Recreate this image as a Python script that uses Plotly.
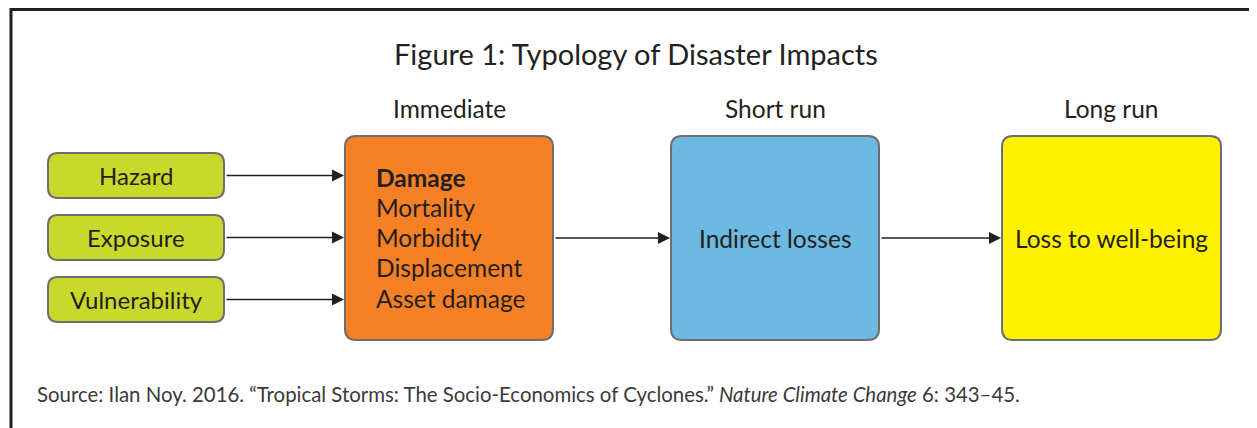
import plotly.graph_objects as go

# text content
title_text = "Figure 1: Typology of Disaster Impacts"
stage_labels = ["Immediate", "Short run", "Long run"]
driver_labels = ["Hazard", "Exposure", "Vulnerability"]
damage_lines = ["Damage", "Mortality", "Morbidity", "Displacement", "Asset damage"]
outcome_labels = ["Indirect losses", "Loss to well-being"]
source_text = ("Source: Ilan Noy. 2016. \u201cTropical Storms: The Socio-Economics of Cyclones.\u201d "
               "<i>Nature Climate Change</i> 6: 343\u201345.")

# layout (pixel-like coordinates, y grows downward)
W, H = 1257, 428
PAGE_OFFSET = 8  # default body margin of the html page
FONT = "Lato, 'Open Sans', sans-serif"
INK = "#231F20"
EDGE = "#6D6E70"

driver_box = dict(x0=48, x1=224, h=45, yc=[175.5, 237.5, 299.5])
big_boxes = [
    dict(x0=345, x1=553, y0=136, y1=340, color="#F58025"),
    dict(x0=671, x1=879, y0=136, y1=340, color="#6CB9E1"),
    dict(x0=1002, x1=1221, y0=136, y1=340, color="#FFF100"),
]
stage_y = 108
flow_y = 238


def rounded_rect(x0, y0, x1, y1, r):
    return (f"M {x0+r},{y0} L {x1-r},{y0} Q {x1},{y0} {x1},{y0+r} "
            f"L {x1},{y1-r} Q {x1},{y1} {x1-r},{y1} L {x0+r},{y1} "
            f"Q {x0},{y1} {x0},{y1-r} L {x0},{y0+r} Q {x0},{y0} {x0+r},{y0} Z")


def arrow(x_head, x_tail, y):
    return dict(x=x_head, y=y, ax=x_tail, ay=y, xref="x", yref="y", axref="x", ayref="y",
                text="", showarrow=True, arrowhead=2, arrowsize=1.5, arrowwidth=1.6,
                arrowcolor=INK)


fig = go.Figure()
shapes = []
annotations = []

# frame (top and left edges only)
shapes.append(dict(type="path", path=f"M 11,{H + 20} L 11,9.5 L {W + 20},9.5",
                   line=dict(color=INK, width=3), xref="x", yref="y"))

# green driver boxes + arrows into the damage box
for label, yc in zip(driver_labels, driver_box["yc"]):
    y0, y1 = yc - driver_box["h"] / 2, yc + driver_box["h"] / 2
    shapes.append(dict(type="path", path=rounded_rect(driver_box["x0"], y0, driver_box["x1"], y1, 10),
                       fillcolor="#C8D92B", line=dict(color=EDGE, width=2), xref="x", yref="y"))
    annotations.append(dict(x=(driver_box["x0"] + driver_box["x1"]) / 2, y=yc, text=label,
                            showarrow=False, font=dict(size=24, color=INK, family=FONT)))
    annotations.append(arrow(big_boxes[0]["x0"] - 1, driver_box["x1"] + 1, yc))

# big boxes
for b in big_boxes:
    shapes.append(dict(type="path", path=rounded_rect(b["x0"], b["y0"], b["x1"], b["y1"], 11),
                       fillcolor=b["color"], line=dict(color=EDGE, width=2), xref="x", yref="y"))

# stage labels
for label, b in zip(stage_labels, big_boxes):
    annotations.append(dict(x=(b["x0"] + b["x1"]) / 2, y=stage_y, text=label, showarrow=False,
                            font=dict(size=24.5, color=INK, family=FONT)))

# damage list
for i, line in enumerate(damage_lines):
    txt = f"<b>{line}</b>" if i == 0 else line
    annotations.append(dict(x=374, y=177 + i * 30.3, text=txt, showarrow=False, xanchor="left",
                            font=dict(size=24.5, color=INK, family=FONT)))

# outcome labels and flow arrows
for label, b in zip(outcome_labels, big_boxes[1:]):
    annotations.append(dict(x=(b["x0"] + b["x1"]) / 2, y=flow_y, text=label, showarrow=False,
                            font=dict(size=24.5, color=INK, family=FONT)))
for a, b in zip(big_boxes[:-1], big_boxes[1:]):
    annotations.append(arrow(b["x0"] - 1, a["x1"] + 1, flow_y))

# title and source
annotations.append(dict(x=636, y=53, text=title_text, showarrow=False,
                        font=dict(size=29, color=INK, family=FONT)))
annotations.append(dict(x=35, y=394, text=source_text, showarrow=False, xanchor="left",
                        font=dict(size=20.4, color="#3A3A3A", family=FONT)))

for a in annotations:
    a.setdefault("xref", "x")
    a.setdefault("yref", "y")

fig.update_layout(
    width=W, height=H, autosize=False,
    margin=dict(l=0, r=0, t=0, b=0),
    paper_bgcolor="white", plot_bgcolor="white",
    shapes=shapes, annotations=annotations, showlegend=False,
    xaxis=dict(range=[PAGE_OFFSET, W + PAGE_OFFSET], visible=False, fixedrange=True),
    yaxis=dict(range=[H + PAGE_OFFSET, PAGE_OFFSET], visible=False, fixedrange=True),
)

fig.write_html("out.html", config={"displayModeBar": False})
